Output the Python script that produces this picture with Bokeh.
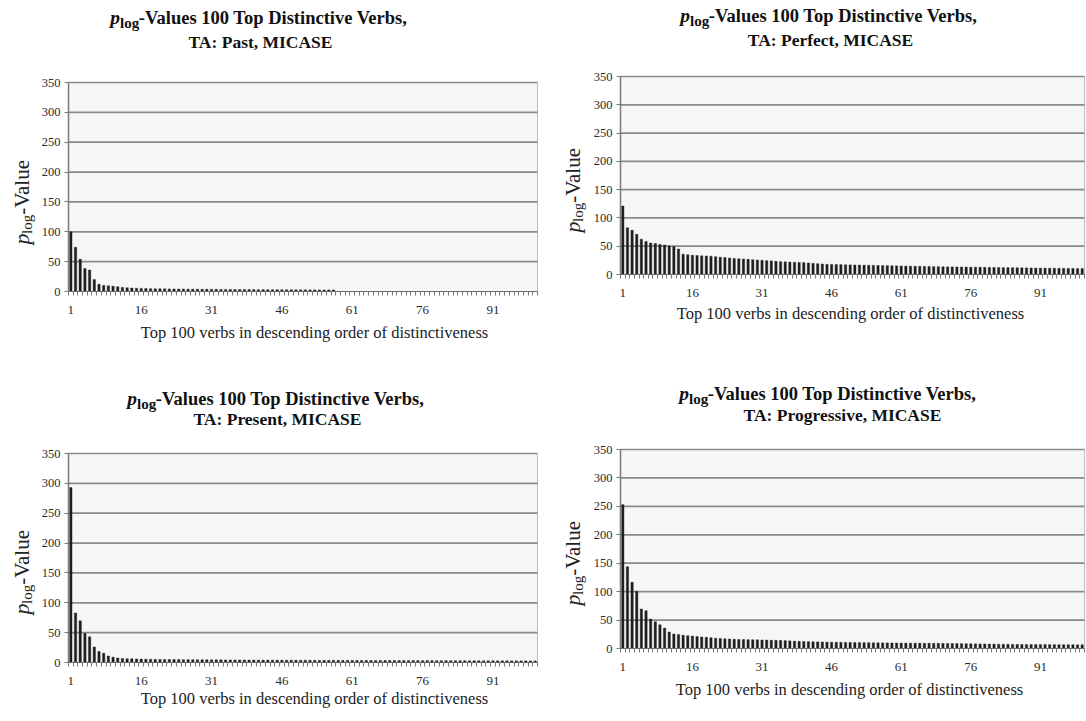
import math
from bokeh.plotting import figure
from bokeh.models import Range1d, FixedTicker, Label, ColumnDataSource
from bokeh.layouts import column, row
from bokeh.embed import file_html
from bokeh.resources import INLINE

# ---------------- data ----------------
ranks = list(range(1, 101))
tick_labels = [1, 16, 31, 46, 61, 76, 91]
y_ticks = [0, 50, 100, 150, 200, 250, 300, 350]

past = [
    100, 74, 54, 38.5, 36, 20, 12, 10.2, 9.5, 9,
    8, 6.8, 6.2, 5.8, 5.5, 5.2, 5.0, 4.8, 4.6, 4.5,
    4.4, 4.3, 4.2, 4.1, 4.0, 3.9, 3.9, 3.8, 3.7, 3.7,
    3.6, 3.6, 3.5, 3.5, 3.4, 3.4, 3.3, 3.3, 3.2, 3.2,
    3.1, 3.1, 3.0, 3.0, 3.0, 2.9, 2.9, 2.9, 2.8, 2.8,
    2.8, 2.7, 2.7, 2.7, 2.6, 2.6, 2.6, 0, 0, 0,
    0, 0, 0, 0, 0, 0, 0, 0, 0, 0,
    0, 0, 0, 0, 0, 0, 0, 0, 0, 0,
    0, 0, 0, 0, 0, 0, 0, 0, 0, 0,
    0, 0, 0, 0, 0, 0, 0, 0, 0, 0,
]

perfect = [
    121, 82.5, 78, 71, 62.5, 58.5, 55.7, 55, 53, 52,
    50.5, 49.4, 45, 36, 35, 34, 33.5, 33, 32.8, 32.4,
    31.5, 30.5, 30, 29, 28.4, 28, 27.3, 26.8, 26.2, 25.6,
    25, 24.5, 24, 23.3, 22.7, 22.4, 22, 21.6, 21.3, 21,
    20.3, 19.7, 19.1, 18.6, 18, 17.8, 17.6, 17.4, 17.2, 17,
    16.8, 16.7, 16.5, 16.3, 16.1, 16, 15.8, 15.6, 15.5, 15.3,
    15.1, 14.9, 14.7, 14.6, 14.4, 14.2, 14.1, 13.9, 13.8, 13.6,
    13.5, 13.4, 13.3, 13.2, 13.1, 13.0, 12.9, 12.8, 12.6, 12.5,
    12.4, 12.3, 12.2, 12.1, 12.0, 11.9, 11.8, 11.7, 11.5, 11.4,
    11.3, 11.2, 11.1, 11.0, 10.9, 10.8, 10.7, 10.6, 10.5, 10.4,
]

present = [
    293, 82.7, 69.8, 49, 43, 26, 18.4, 15.6, 11, 9,
    7.5, 6.8, 6.4, 6.1, 5.9, 5.7, 5.5, 5.4, 5.2, 5.1,
    5.0, 4.95, 4.9, 4.85, 4.8, 4.75, 4.7, 4.65, 4.6, 4.55,
    4.5, 4.45, 4.4, 4.35, 4.3, 4.25, 4.2, 4.2, 4.15, 4.1,
    4.05, 4.0, 3.97, 3.94, 3.91, 3.88, 3.85, 3.82, 3.79, 3.76,
    3.73, 3.7, 3.67, 3.64, 3.61, 3.58, 3.55, 3.52, 3.49, 3.46,
    3.43, 3.41, 3.4, 3.38, 3.36, 3.34, 3.32, 3.3, 3.28, 3.26,
    3.24, 3.22, 3.2, 3.18, 3.16, 3.14, 3.12, 3.1, 3.08, 3.06,
    3.04, 3.02, 3.0, 2.98, 2.96, 2.94, 2.92, 2.9, 2.88, 2.86,
    2.84, 2.82, 2.8, 2.78, 2.76, 2.74, 2.72, 2.7, 2.68, 2.66,
]

progressive = [
    253, 144, 116.5, 100.6, 69.4, 66.5, 51.8, 47, 41.8, 35.9,
    29, 25.5, 24.5, 23.5, 22.5, 21.8, 21, 20.3, 19.6, 19,
    18, 17.5, 17, 16.6, 16.3, 16, 15.8, 15.6, 15.4, 15.2,
    15, 14.8, 14.6, 14.4, 14.2, 13.8, 13.4, 13, 12.6, 12.3,
    12, 11.8, 11.6, 11.4, 11.2, 11, 10.9, 10.8, 10.7, 10.6,
    10.5, 10.4, 10.3, 10.2, 10.1, 10, 9.9, 9.8, 9.7, 9.6,
    9.5, 9.4, 9.4, 9.3, 9.3, 9.2, 9.2, 9.1, 9.1, 9.0,
    8.9, 8.8, 8.7, 8.6, 8.4, 8.3, 8.2, 8.0, 7.9, 7.8,
    7.7, 7.5, 7.4, 7.3, 7.2, 7.2, 7.1, 7.1, 7.0, 7.0,
    6.9, 6.9, 6.8, 6.8, 6.7, 6.7, 6.6, 6.6, 6.5, 6.5,
]

title_p = "p"
title_sub = "log"
title_main = "-Values 100 Top Distinctive Verbs,"
subtitles = ["TA: Past, MICASE", "TA: Perfect, MICASE",
             "TA: Present, MICASE", "TA: Progressive, MICASE"]
x_title = "Top 100 verbs in descending order of distinctiveness"
y_title_main = "-Value"

FONT = "Liberation Serif"
X_MIN, X_MAX = 0.5, 100.5
Y_MIN, Y_MAX = 0, 350


def make_panel(values, subtitle, fig_left, fig_top, fig_w, fig_h,
               area_l, area_r, area_t, area_b,
               t1c, t1b, t2c, t2b, xlc, xlb, ylx, ylp):
    # area_* : plot-area edges in page pixels; the frame covers the whole
    # figure so that titles are not clipped, and axes sit at fixed locations.
    L = area_l - fig_left
    R = area_r - fig_left
    T = area_t - fig_top
    B = area_b - fig_top
    kx = (X_MAX - X_MIN) / (R - L)
    ky = (Y_MAX - Y_MIN) / (B - T)
    x_range = Range1d(X_MIN - L * kx, X_MAX + (fig_w - R) * kx)
    y_range = Range1d(Y_MIN - (fig_h - B) * ky, Y_MAX + T * ky)

    p = figure(width=fig_w, height=fig_h, min_border=0,
               x_range=x_range, y_range=y_range,
               output_backend="svg", toolbar_location=None, tools="",
               title=None)
    p.background_fill_color = "white"
    p.border_fill_color = "white"
    p.outline_line_color = None
    p.xgrid.visible = False
    p.ygrid.visible = False

    # plot area background
    p.quad(left=X_MIN, right=X_MAX, bottom=Y_MIN, top=Y_MAX,
           fill_color="#f6f6f6", line_color="#bdbdbd", line_width=1)
    # horizontal grid lines at the y ticks
    gy = [t for t in y_ticks if t > 0]
    p.segment(x0=[X_MIN] * len(gy), x1=[X_MAX] * len(gy), y0=gy, y1=gy,
              line_color="#8a8a8a", line_width=1.7)

    src = ColumnDataSource(dict(rank=ranks, value=values))
    p.vbar(x="rank", top="value", bottom=0, width=0.5, source=src,
           fill_color="#1e1e1e", line_color="#1e1e1e", line_width=0.4)

    ya = p.yaxis[0]
    ya.fixed_location = X_MIN
    ya.bounds = (Y_MIN, Y_MAX)
    ya.ticker = FixedTicker(ticks=y_ticks)
    ya.axis_line_color = "#7a7a7a"
    ya.axis_line_width = 1.5
    ya.major_tick_in = 0
    ya.major_tick_out = 4
    ya.major_tick_line_color = "#7a7a7a"
    ya.minor_tick_line_color = None
    ya.major_label_text_font = FONT
    ya.major_label_text_font_size = "12.5px"
    ya.major_label_text_color = "#2a2a2a"
    ya.major_label_standoff = 4

    xa = p.xaxis[0]
    xa.fixed_location = Y_MIN
    xa.bounds = (X_MIN, X_MAX)
    xa.ticker = FixedTicker(ticks=tick_labels,
                            minor_ticks=[r - 0.5 for r in ranks] + [100.5])
    xa.axis_line_color = "#6a6a6a"
    xa.axis_line_width = 1.2
    xa.major_tick_line_color = None
    xa.minor_tick_in = 0
    xa.minor_tick_out = 4
    xa.minor_tick_line_color = "#777777"
    xa.major_label_text_font = FONT
    xa.major_label_text_font_size = "13px"
    xa.major_label_text_color = "#2a2a2a"
    xa.major_label_standoff = 8

    def lab(x, y, text, **kw):
        p.add_layout(Label(x=x - fig_left, y=fig_h - (y - fig_top),
                           x_units="screen", y_units="screen",
                           text=text, text_font=FONT,
                           text_baseline="alphabetic", **kw))

    fs = 18.5
    sub_fs = 15
    p_w = 0.5 * fs
    sub_w = 1.278 * sub_fs
    main_w = 14.805 * fs
    total = p_w + sub_w + main_w
    start = t1c - total / 2
    lab(start, t1b, title_p, text_font_size=f"{fs + 1}px",
        text_font_style="bold italic", text_color="#111111", text_align="left")
    lab(start + p_w + 0.5, t1b + 5, title_sub, text_font_size=f"{sub_fs}px",
        text_font_style="bold", text_color="#111111", text_align="left")
    lab(start + p_w + sub_w, t1b, title_main, text_font_size=f"{fs}px",
        text_font_style="bold", text_color="#111111", text_align="left")
    lab(t2c, t2b, subtitle, text_font_size="17.5px",
        text_font_style="bold", text_color="#111111", text_align="center")
    lab(xlc, xlb, x_title, text_font_size="16.5px", text_color="#222222",
        text_align="center")

    yfs = 21
    ysub = 15
    yp_w = 0.5 * yfs
    ysub_w = 1.278 * ysub
    ang = math.pi / 2
    lab(ylx, ylp, title_p, angle=ang, text_font_size=f"{yfs + 1}px",
        text_font_style="italic", text_color="#222222", text_align="left")
    lab(ylx + 5, ylp - yp_w, title_sub, angle=ang,
        text_font_size=f"{ysub}px", text_color="#222222", text_align="left")
    lab(ylx, ylp - yp_w - ysub_w, y_title_main, angle=ang,
        text_font_size=f"{yfs}px", text_color="#222222", text_align="left")
    return p


p1 = make_panel(past, subtitles[0], 0, 0, 548, 360, 68, 537, 82, 291,
                261, 17, 260, 41, 314, 332, 21, 244)
p2 = make_panel(perfect, subtitles[1], 548, 0, 538, 360, 620, 1084, 76, 274,
                831, 15, 830, 39, 850, 313, 572, 232)
p3 = make_panel(present, subtitles[2], 0, 360, 548, 360, 68, 537, 453, 662,
                278, 398, 277, 418, 314, 698, 21, 614)
p4 = make_panel(progressive, subtitles[3], 548, 360, 538, 360, 620, 1084, 449, 648,
                830, 393, 842, 414, 849, 689, 572, 605)

layout = column(row(p1, p2), row(p3, p4))
open("out.html", "w").write(file_html(layout, INLINE))
